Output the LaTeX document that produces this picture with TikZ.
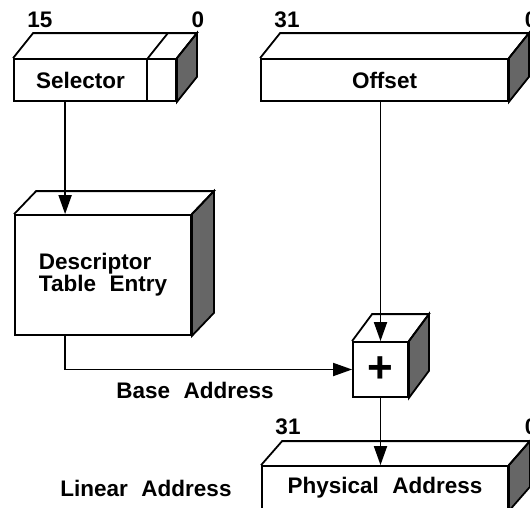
\documentclass[tikz,border=0pt]{standalone}
\usepackage{fontspec}
\setmainfont{Liberation Sans}
\usetikzlibrary{arrows.meta,calc}

% top and right faces of a box whose front face spans nodes #1 (left) to #2 (right)
\newcommand\depthfaces[4]{%
  \filldraw[sideface] (#2.north east) -- ++(#3,-#4)
    -- ([shift={(#3,-#4)}]#2.south east) -- (#2.south east) -- cycle;
  \draw[edge] (#1.north west) -- ++(#3,-#4)
    -- ([shift={(#3,-#4)}]#2.north east) -- (#2.north east);
}
\newcommand\wgap{\hspace{0.6em}}

\begin{document}
\begin{tikzpicture}[x=1pt,y=-1pt,
  font=\fontsize{22.5}{22}\selectfont\bfseries,
  edge/.style={line width=1.8pt, line join=miter},
  face/.style={edge, draw, fill=white, rectangle, inner sep=0pt},
  sideface/.style={edge, fill=black!60},
  arr/.style={line width=1.8pt, -{Triangle[length=19pt,width=13pt]}},
  bits/.style={inner sep=0pt},
  label/.style={inner sep=0pt}
]
\useasboundingbox (0,0) rectangle (530,507);
\clip (0,0) rectangle (530,507);

% selector register (16 bits)
\node[face, minimum width=133pt, minimum height=42pt] (sel) at (80.5,80) {Selector};
\node[face, minimum width=29pt, minimum height=42pt] (rpl) at (161.5,80) {};
\depthfaces{sel}{rpl}{20}{25}
\draw[edge] (sel.north east) -- ++(20,-25);
\node[bits] (s15) at (40,20) {15};
\node[bits] (s0) at (198,20) {0};

% offset register (32 bits)
\node[face, minimum width=247pt, minimum height=42pt] (off) at (384.5,80) {Offset};
\depthfaces{off}{off}{20}{25}
\node[bits] (o31) at (287,20) {31};
\node[bits] (o0) at (531,20) {0};

% descriptor table entry
\node[face, minimum width=176pt, minimum height=120pt, align=left] (desc) at (103,275)
  {Descriptor\\Table\wgap Entry};
\depthfaces{desc}{desc}{22}{23}

% adder
\node[face, minimum width=55pt, minimum height=55pt,
  font=\fontsize{44}{44}\selectfont\bfseries] (plus) at (380.5,369.5) {+};
\depthfaces{plus}{plus}{20}{27}

% resulting address
\node[face, minimum width=246pt, minimum height=44pt] (phys) at (385,488)
  {Physical\wgap Address};
\depthfaces{phys}{phys}{21}{24}
\node[bits] (p31) at (288,427) {31};
\node[bits] (p0) at (531,427) {0};

% connectors
\draw[arr] ([xshift=52pt]sel.south west) -- ([xshift=51pt]desc.north west);
\draw[arr] (off.south -| plus.north) -- (plus.north);
\draw[arr] ([xshift=51pt]desc.south west) |- (plus.west);
\draw[arr] (plus.south) -- (plus.south |- phys.north);

% captions
\node[label] (base) at (195,390) {Base\wgap Address};
\node[label] (lin) at (146,488) {Linear\wgap Address};
\end{tikzpicture}
\end{document}
